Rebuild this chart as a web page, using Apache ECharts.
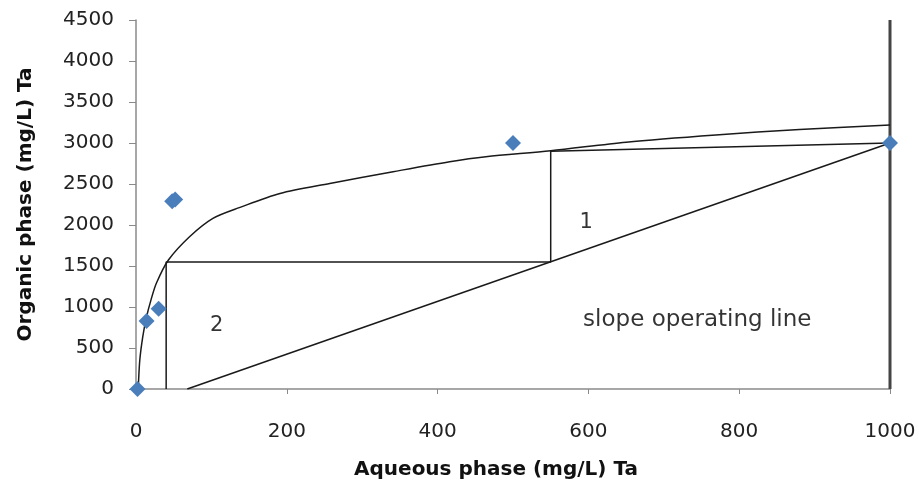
<!DOCTYPE html>
<html>
<head>
<meta charset="utf-8">
<script src="https://cdn.jsdelivr.net/npm/echarts@6/dist/echarts.min.js"></script>
<style>
  html, body { margin: 0; padding: 0; background: #fff; }
  #chart { width: 919px; height: 488px; }
</style>
</head>
<body>
<div id="chart"></div>
<script>
// Equilibrium isotherm (fitted curve), mg/L Ta
const curveX = [3, 5, 9, 14, 20, 27, 43, 71, 102, 138, 191, 257, 341, 416, 464, 550, 650, 769, 880, 1000];
const curveY = [0, 350, 640, 880, 1090, 1290, 1573, 1857, 2081, 2215, 2385, 2507, 2650, 2772, 2833, 2905, 3010, 3098, 3165, 3220];

// Measured equilibrium points
const pointsX = [2, 14, 30, 48, 52, 500, 1000];
const pointsY = [0, 830, 980, 2290, 2310, 3000, 3000];

// Operating line
const opX = [68, 1000];
const opY = [0, 3000];

// McCabe-Thiele stage construction
const stepX = [1000, 550, 550, 40, 40];
const stepY = [3000, 2900, 1550, 1550, 0];

// Feed concentration marker (vertical line)
const feedX = [1000, 1000];
const feedY = [0, 4500];

// Stage numbers
const stageX = [597, 107];
const stageY = [2030, 770];
const stageText = ['1', '2'];

// Operating line caption (left-anchored)
const captionX = [593];
const captionY = [840];
const captionText = ['slope operating line'];

const xTicks = { min: 0, max: 1000, interval: 200 };
const yTicks = { min: 0, max: 4500, interval: 500 };

const zip = (a, b) => a.map((v, i) => [v, b[i]]);

const chart = echarts.init(document.getElementById('chart'));
const lineStyle = { color: '#1a1a1a', width: 1.5 };
const font = 'DejaVu Sans';
const hidden = { color: 'rgba(0,0,0,0)' };

chart.setOption({
  animation: false,
  backgroundColor: '#fff',
  grid: { left: 136, right: 29, top: 20, bottom: 99 },
  xAxis: {
    type: 'value',
    min: xTicks.min, max: xTicks.max, interval: xTicks.interval,
    name: 'Aqueous phase (mg/L) Ta',
    nameLocation: 'middle',
    nameGap: 71,
    nameTextStyle: { fontFamily: font, fontWeight: 'bold', fontSize: 20, color: '#111', padding: [0, 34, 0, 0] },
    axisLine: { lineStyle: { color: '#8a8a8a', width: 1.5 } },
    axisTick: { length: 5, lineStyle: { color: '#8a8a8a' } },
    axisLabel: { fontFamily: font, fontSize: 20, color: '#222', margin: 33, formatter: v => String(v) },
    splitLine: { show: false }
  },
  yAxis: {
    type: 'value',
    min: yTicks.min, max: yTicks.max, interval: yTicks.interval,
    name: 'Organic phase (mg/L) Ta',
    nameLocation: 'middle',
    nameGap: 100,
    nameTextStyle: { fontFamily: font, fontWeight: 'bold', fontSize: 20, color: '#111' },
    axisLine: { show: true, lineStyle: { color: '#8a8a8a', width: 1.5 } },
    axisTick: { show: true, length: 7, lineStyle: { color: '#8a8a8a' } },
    axisLabel: { fontFamily: font, fontSize: 20, color: '#222', margin: 22, formatter: v => String(v) },
    splitLine: { show: false }
  },
  series: [
    {
      name: 'isotherm', type: 'line', data: zip(curveX, curveY),
      smooth: 0.3, showSymbol: false, lineStyle: lineStyle, z: 3
    },
    {
      name: 'operating', type: 'line', data: zip(opX, opY),
      showSymbol: false, lineStyle: lineStyle, z: 3
    },
    {
      name: 'stages', type: 'line', data: zip(stepX, stepY),
      showSymbol: false, lineStyle: lineStyle, z: 3
    },
    {
      name: 'feed', type: 'line', data: zip(feedX, feedY),
      showSymbol: false, lineStyle: { color: '#444', width: 3 }, z: 2
    },
    {
      name: 'data', type: 'scatter', data: zip(pointsX, pointsY),
      symbol: 'diamond', symbolSize: 16,
      itemStyle: { color: '#4a7ebb', opacity: 1 }, z: 5
    },
    {
      name: 'stageNo', type: 'scatter', symbolSize: 1, silent: true,
      itemStyle: hidden,
      data: stageX.map((x, i) => ({ value: [x, stageY[i]], name: stageText[i] })),
      label: {
        show: true, position: 'inside', formatter: p => p.name,
        fontFamily: font, fontSize: 21, color: '#000', textBorderWidth: 0
      }
    },
    {
      name: 'caption', type: 'scatter', symbolSize: 1, silent: true,
      itemStyle: hidden,
      data: captionX.map((x, i) => ({ value: [x, captionY[i]], name: captionText[i] })),
      label: {
        show: true, position: 'inside', align: 'left', formatter: p => p.name,
        fontFamily: font, fontSize: 23, color: '#000', textBorderWidth: 0
      }
    }
  ]
});
</script>
</body>
</html>
